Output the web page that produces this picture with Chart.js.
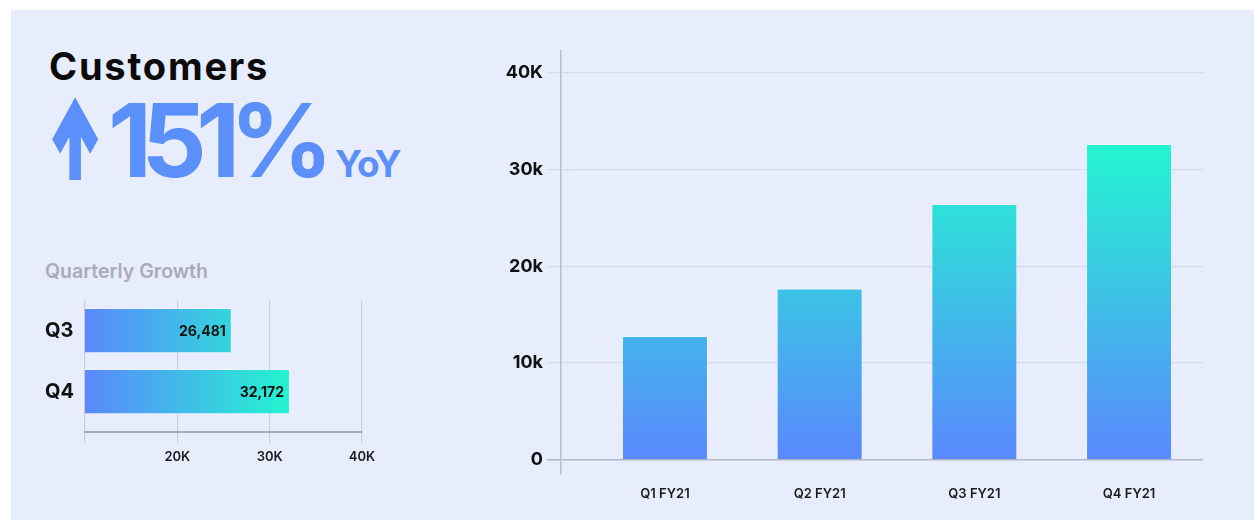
<!DOCTYPE html>
<html lang="en">
<head>
<meta charset="UTF-8" />
<title>Customers</title>
<script src="https://cdn.jsdelivr.net/npm/chart.js@4.4.1/dist/chart.umd.min.js"></script>
<style>
  html, body { margin: 0; padding: 0; background: #fff; }
  body { width: 1254px; height: 520px; position: relative; overflow: hidden; font-family: Inter, "Open Sans", sans-serif; }
  .panel { position: absolute; left: 11px; top: 10px; right: 0; bottom: 0; background: #e8edfd; }
  .txt { position: absolute; line-height: 1; white-space: nowrap; }
  #title { left: 49px; top: 47px; font-size: 38px; font-weight: 700; color: #0b0b0b; letter-spacing: 1.8px; }
  #arrow { left: 50px; top: 92px; font-size: 98px; font-weight: 800; color: #5b8ff9; -webkit-text-stroke: 8px #5b8ff9; transform: scaleX(0.55); transform-origin: left top; }
  #pct { left: 108px; top: 89px; font-size: 102px; font-weight: 700; color: #5b8ff9; letter-spacing: -10.5px; }
  #yoy { left: 335px; top: 145px; font-size: 37px; font-weight: 700; color: #5b8ff9; letter-spacing: -1px; }
  #sub { left: 45px; top: 262px; font-size: 19.5px; font-weight: 600; color: #a9abb5; }
  #qChart { position: absolute; left: 30px; top: 285px; }
  #mainChart { position: absolute; left: 480px; top: 30px; }
</style>
</head>
<body>
<div class="panel"></div>
<div class="txt" id="title">Customers</div>
<div class="txt" id="arrow">↑</div>
<div class="txt" id="pct">151%</div>
<div class="txt" id="yoy">YoY</div>
<div class="txt" id="sub">Quarterly Growth</div>

<canvas id="qChart" width="360" height="190"></canvas>
<canvas id="mainChart" width="760" height="480"></canvas>

<script>
// 主圖：每季客戶數
const quarters = ["Q1 FY21", "Q2 FY21", "Q3 FY21", "Q4 FY21"];
const customers = [12800, 17700, 26400, 32600];
const yTickValues = [0, 10000, 20000, 30000, 40000];
const yTickLabels = ["0", "10k", "20k", "30k", "40K"];

// 左下：Quarterly Growth
const growthQuarters = ["Q3", "Q4"];
const growthValues = [25900, 32200];
const growthLabels = ["26,481", "32,172"];
const growthTickValues = [10000, 20000, 30000, 40000];
const growthTickLabels = ["", "20K", "30K", "40K"];

const blueEnd = "#5a88fd";
const greenEnd = "#23f5d0";
const font = "Inter";

function vGradient(context) {
  const chart = context.chart;
  if (!chart.chartArea) return blueEnd;
  const y = chart.scales.y;
  const g = chart.ctx.createLinearGradient(0, y.getPixelForValue(0), 0, y.getPixelForValue(Math.max(...customers)));
  g.addColorStop(0, blueEnd);
  g.addColorStop(1, greenEnd);
  return g;
}

function hGradient(context) {
  const chart = context.chart;
  if (!chart.chartArea) return blueEnd;
  const x = chart.scales.x;
  const g = chart.ctx.createLinearGradient(x.getPixelForValue(x.min), 0, x.getPixelForValue(Math.max(...growthValues)), 0);
  g.addColorStop(0, blueEnd);
  g.addColorStop(1, greenEnd);
  return g;
}

// 只留下指定的刻度
const keepTicks = (values) => (axis) => { axis.ticks = values.map((v) => ({ value: v })); };

// 長條末端的數字
const barLabels = {
  id: "barLabels",
  afterDatasetsDraw(chart) {
    const c = chart.ctx;
    const meta = chart.getDatasetMeta(0);
    c.save();
    c.font = "700 14px " + font;
    c.fillStyle = "#111";
    c.textAlign = "right";
    c.textBaseline = "middle";
    meta.data.forEach((bar, i) => c.fillText(growthLabels[i], bar.x - 6, bar.y + 1));
    c.restore();
  },
};

new Chart(document.getElementById("mainChart"), {
  type: "bar",
  data: {
    datasets: [{
      data: quarters.map((q, i) => ({ x: i + 1, y: customers[i] })),
      backgroundColor: vGradient,
      borderColor: "rgba(255,255,255,0.35)",
      borderWidth: 1,
      categoryPercentage: 1,
      barPercentage: 0.556,
    }],
  },
  options: {
    responsive: false,
    animation: false,
    layout: { padding: { top: 21, right: 37, left: 0, bottom: 0 } },
    plugins: { legend: { display: false }, tooltip: { enabled: false } },
    scales: {
      x: {
        type: "linear",
        offset: false,
        min: 0.328,
        max: 4.478,
        afterBuildTicks: keepTicks(quarters.map((q, i) => i + 1)),
        afterFit: (axis) => { axis.height = 36; },
        grid: { display: false },
        border: { display: false },
        ticks: {
          padding: 4,
          maxRotation: 0,
          autoSkip: false,
          color: "#1b1b1b",
          font: { family: font, size: 13, weight: "600" },
          callback: (v) => quarters[v - 1],
        },
      },
      y: {
        min: -1450,
        max: 42200,
        afterBuildTicks: keepTicks(yTickValues),
        afterFit: (axis) => { axis.width = 81; },
        grid: {
          color: (ctx) => (ctx.tick && ctx.tick.value === 0 ? "#b3b5c0" : "#d5d9ea"),
          lineWidth: (ctx) => (ctx.tick && ctx.tick.value === 0 ? 1.6 : 1.2),
          tickLength: 14,
        },
        border: { display: true, color: "#bcbec8", width: 1.6 },
        ticks: {
          padding: 4,
          color: "#111",
          font: { family: font, size: 18, weight: "700" },
          callback: (v) => yTickLabels[yTickValues.indexOf(v)],
        },
      },
    },
  },
});

new Chart(document.getElementById("qChart"), {
  type: "bar",
  data: {
    datasets: [{
      data: growthQuarters.map((q, i) => ({ y: i, x: growthValues[i] })),
      backgroundColor: hGradient,
      borderColor: "rgba(255,255,255,0.35)",
      borderWidth: 1,
      categoryPercentage: 1,
      barPercentage: 0.742,
    }],
  },
  plugins: [barLabels],
  options: {
    indexAxis: "y",
    responsive: false,
    animation: false,
    layout: { padding: { top: 13, right: 28, left: 15, bottom: 0 } },
    plugins: { legend: { display: false }, tooltip: { enabled: false } },
    scales: {
      y: {
        type: "linear",
        offset: false,
        reverse: true,
        min: -0.5,
        max: 1.66,
        afterBuildTicks: keepTicks(growthQuarters.map((q, i) => i)),
        afterFit: (axis) => { axis.width = 40; },
        grid: { display: false },
        border: { display: false },
        ticks: {
          crossAlign: "far",
          color: "#111",
          font: { family: font, size: 20, weight: "700" },
          callback: (v) => growthQuarters[v],
        },
      },
      x: {
        min: 10000,
        max: 40000,
        afterBuildTicks: keepTicks(growthTickValues),
        afterFit: (axis) => { axis.height = 190 - 13 - 134; },
        grid: { color: "#cbcdd8", lineWidth: 1.2, tickLength: 11 },
        border: { display: true, color: "#a9abb3", width: 2 },
        ticks: {
          padding: 6,
          maxRotation: 0,
          color: "#1b1b1b",
          font: { family: font, size: 13, weight: "600" },
          callback: (v) => growthTickLabels[growthTickValues.indexOf(v)],
        },
      },
    },
  },
});
</script>
</body>
</html>
